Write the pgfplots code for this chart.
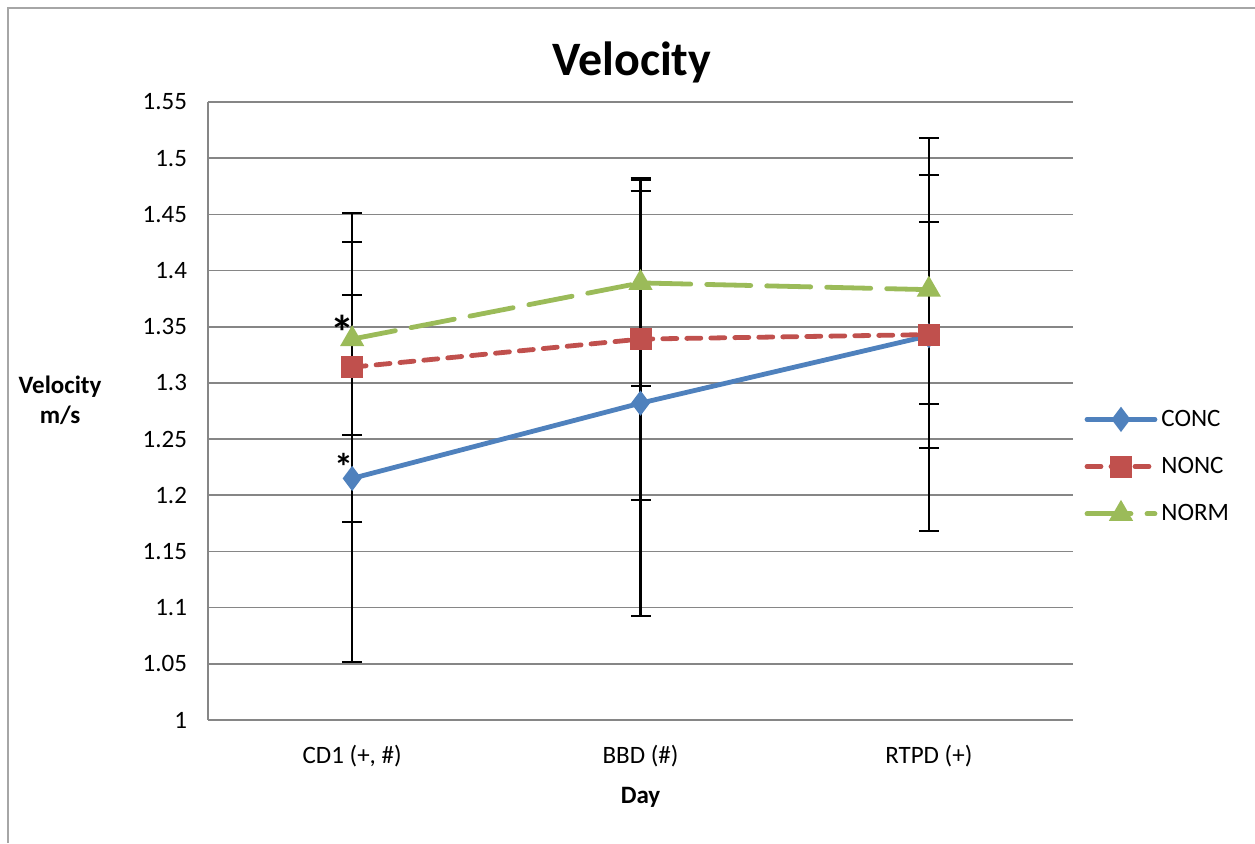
\documentclass[border=0pt]{standalone}
\usepackage{pgfplots}
\pgfplotsset{compat=1.18}
\usepackage{fontspec}
\setmainfont{Carlito}
\definecolor{cblue}{HTML}{4F81BD}
\definecolor{cred}{HTML}{C0504D}
\definecolor{cgreen}{HTML}{9BBB59}
\definecolor{gridgray}{HTML}{868686}
\begin{document}
\begin{tikzpicture}
\useasboundingbox (0,0) rectangle (627.5pt,421.5pt);
\draw[gray!70, line width=1pt] (4pt,0) -- (4pt,417.5pt) -- (627.5pt,417.5pt);
\begin{axis}[
  at={(104pt,61.5pt)}, anchor=south west,
  scale only axis, width=432.5pt, height=309pt,
  xmin=-0.5, xmax=2.5, ymin=1, ymax=1.55,
  xtick={0,1,2}, xticklabels={{CD1 (+, \#)},{BBD (\#)},{RTPD (+)}},
  ytick={1,1.05,...,1.56},
  yticklabel style={/pgf/number format/fixed, /pgf/number format/precision=2},
  /pgf/number format/assume math mode=true,
  tick label style={font=\fontsize{12.5}{15}\selectfont},
  xticklabel style={yshift=-9pt},
  yticklabel style={xshift=-7pt},
  major tick length=0pt,
  axis x line*=bottom, axis y line*=left,
  axis line style={gridgray, line width=0.8pt, -},
  ymajorgrids, grid style={gridgray, line width=0.8pt},
  title={Velocity},
  title style={font=\fontsize{24}{28}\selectfont\bfseries, at={(axis description cs:0.49,1.045)}, anchor=center},
  xlabel={Day},
  xlabel style={font=\fontsize{12.5}{15}\selectfont\bfseries, at={(axis description cs:0.5,-0.125)}, anchor=center},
  ylabel={Velocity\\m/s},
  ylabel style={font=\fontsize{12.5}{15}\selectfont\bfseries, align=center, rotate=-90, at={(axis description cs:-0.171,0.518)}, anchor=center},
  legend style={at={(axis description cs:1.006,0.41)}, anchor=west, draw=none, fill=none,
    font=\fontsize{12.5}{15}\selectfont, row sep=10pt},
  legend cell align=left,
  legend image code/.code={\draw[mark repeat=2, mark phase=2] plot coordinates {(0pt,0pt) (17pt,0pt) (34pt,0pt)};},
  clip=false,
]
\addplot[cblue, line width=2.4pt, mark=diamond*, mark size=5.5pt, mark options={solid, fill=cblue, line width=1pt}, line cap=round]
  coordinates {(0,1.215) (1,1.282) (2,1.342)};
\addlegendentry{CONC}
\addplot[cred, line width=2.4pt, dash pattern=on 7pt off 5pt, line cap=round, mark=square*, mark size=5pt, mark options={solid, fill=cred, line width=1pt}]
  coordinates {(0,1.314) (1,1.339) (2,1.343)};
\addlegendentry{NONC}
\addplot[cgreen, line width=2.4pt, dash pattern=on 22pt off 8pt, line cap=round, mark=triangle*, mark size=6pt, mark options={solid, fill=cgreen, line width=1pt}]
  coordinates {(0,1.339) (1,1.389) (2,1.383)};
\addlegendentry{NORM}
% error bars on top
\addplot[forget plot, draw=none, mark=none, error bars/.cd, y dir=both, y explicit,
  error bar style={draw=black, line width=1.1pt, solid},
  error mark options={draw=black, rotate=90, mark size=5pt, line width=1pt, solid}]
  coordinates {(0,1.215) +- (0,0.163) (1,1.282) +- (0,0.189) (2,1.343) +- (0,0.175)};
\addplot[forget plot, draw=none, mark=none, error bars/.cd, y dir=both, y explicit,
  error bar style={draw=black, line width=1.1pt, solid},
  error mark options={draw=black, rotate=90, mark size=5pt, line width=1pt, solid}]
  coordinates {(0,1.314) +- (0,0.1375) (1,1.339) +- (0,0.143) (2,1.3425) +- (0,0.1005)};
\addplot[forget plot, draw=none, mark=none, error bars/.cd, y dir=both, y explicit,
  error bar style={draw=black, line width=1.1pt, solid},
  error mark options={draw=black, rotate=90, mark size=5pt, line width=1pt, solid}]
  coordinates {(0,1.3395) +- (0,0.0855) (1,1.389) +- (0,0.092) (2,1.383) +- (0,0.102)};
\node[font=\fontsize{24}{26}\selectfont\bfseries] at (axis cs:-0.033,1.345) {*};
\node[font=\fontsize{19}{20}\selectfont\bfseries] at (axis cs:-0.03,1.225) {*};
\end{axis}
\end{tikzpicture}
\end{document}
